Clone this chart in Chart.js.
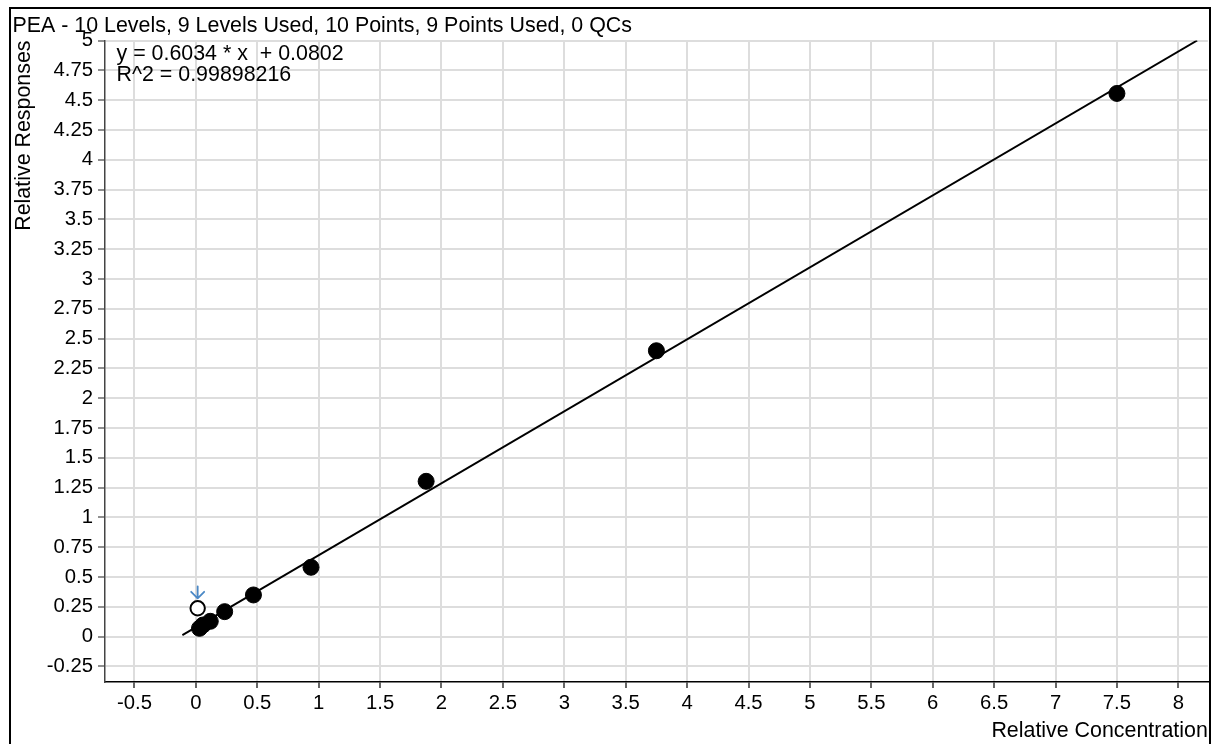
<!DOCTYPE html>
<html>
<head>
<meta charset="utf-8">
<script src="https://cdn.jsdelivr.net/npm/chart.js@4"></script>
<style>
  html, body { margin: 0; padding: 0; background: #fff; }
  #wrap { position: relative; width: 1217px; height: 744px; overflow: hidden; }
  #frame { position: absolute; left: 9px; top: 7px; width: 1202px; height: 800px;
           box-sizing: border-box; border: 2px solid #000; pointer-events: none; }
  canvas { position: absolute; left: 0; top: 0; }
</style>
</head>
<body>
<div id="wrap">
  <canvas id="cal" width="1217" height="744"></canvas>
  <div id="frame"></div>
</div>
<script>
// Calibration levels used in the fit
const concentrations = [0.0293, 0.0586, 0.1172, 0.2344, 0.4688, 0.9375, 1.875, 3.75, 7.5];
const responses      = [0.070, 0.098, 0.129, 0.210, 0.350, 0.582, 1.303, 2.398, 4.556];

// Level excluded from the fit
const excludedConcentrations = [0.0146];
const excludedResponses      = [0.238];

// Linear fit
const slope = 0.6034;
const intercept = 0.0802;
const rSquared = '0.99898216';
const fitStartX = -0.11;

const titleText = 'PEA - 10 Levels, 9 Levels Used, 10 Points, 9 Points Used, 0 QCs';
const xAxisTitle = 'Relative Concentration';
const yAxisTitle = 'Relative Responses';

const xTickValues = [-0.5, 0, 0.5, 1, 1.5, 2, 2.5, 3, 3.5, 4, 4.5, 5, 5.5, 6, 6.5, 7, 7.5, 8];
const yTickValues = [-0.25, 0, 0.25, 0.5, 0.75, 1, 1.25, 1.5, 1.75, 2, 2.25, 2.5, 2.75, 3,
                     3.25, 3.5, 3.75, 4, 4.25, 4.5, 4.75, 5];

const xMin = -0.74, xMax = 8.24;
const yMin = -0.38, yMax = 5;

const FONT = '"Liberation Sans", Arial, Helvetica, sans-serif';

const usedPoints = concentrations.map((c, i) => ({ x: c, y: responses[i] }));
const excludedPoints = excludedConcentrations.map((c, i) => ({ x: c, y: excludedResponses[i] }));
const fitEndX = (yMax - intercept) / slope;
const fitLine = [fitStartX, fitEndX].map(x => ({ x: x, y: slope * x + intercept }));

const fmt = v => String(Number(v.toFixed(4)));

// Header text and fit equation
const textPlugin = {
  id: 'calTexts',
  afterDraw(chart) {
    const ctx = chart.ctx;
    ctx.save();
    ctx.fillStyle = '#000';
    ctx.textAlign = 'left';
    ctx.textBaseline = 'alphabetic';
    ctx.font = '21.4px ' + FONT;
    ctx.fillText(titleText, 12.5, 31.5);
    ctx.fillText('y = ' + slope + ' * x  + ' + intercept.toFixed(4), 116.5, 59.5);
    ctx.fillText('R^2 = ' + rSquared, 116.5, 80.5);
    ctx.restore();
  }
};

// Blue marker above each excluded point
const excludedArrowPlugin = {
  id: 'excludedArrow',
  afterDatasetsDraw(chart) {
    const meta = chart.getDatasetMeta(1);
    const ctx = chart.ctx;
    ctx.save();
    ctx.strokeStyle = '#4a88c6';
    ctx.lineWidth = 1.8;
    ctx.lineCap = 'round';
    ctx.lineJoin = 'round';
    meta.data.forEach(pt => {
      const x = pt.x;
      const tip = pt.y - 10;
      ctx.beginPath();
      ctx.moveTo(x, tip - 12);
      ctx.lineTo(x, tip);
      ctx.moveTo(x - 6.5, tip - 6.5);
      ctx.lineTo(x, tip);
      ctx.lineTo(x + 6.5, tip - 6.5);
      ctx.stroke();
    });
    ctx.restore();
  }
};

new Chart(document.getElementById('cal'), {
  type: 'scatter',
  data: {
    datasets: [
      {
        label: 'Used',
        data: usedPoints,
        backgroundColor: '#000',
        borderColor: '#000',
        borderWidth: 1,
        pointRadius: 8,
        pointHoverRadius: 8
      },
      {
        label: 'Excluded',
        data: excludedPoints,
        backgroundColor: '#fff',
        borderColor: '#000',
        borderWidth: 2,
        pointRadius: 7.2,
        pointHoverRadius: 7.2
      },
      {
        type: 'line',
        label: 'Fit',
        data: fitLine,
        borderColor: '#000',
        borderWidth: 2,
        pointRadius: 0,
        fill: false,
        tension: 0
      }
    ]
  },
  options: {
    responsive: false,
    animation: false,
    devicePixelRatio: 1,
    events: [],
    layout: { padding: { top: 40.5, right: 9, left: 0, bottom: 0 } },
    plugins: {
      legend: { display: false },
      tooltip: { enabled: false },
      title: { display: false }
    },
    scales: {
      x: {
        type: 'linear',
        min: xMin,
        max: xMax,
        afterBuildTicks: s => { s.ticks = xTickValues.map(v => ({ value: v })); },
        afterFit: s => { s.height = 62; },
        grid: { color: '#dddddd', lineWidth: 2, tickLength: 6, tickColor: '#000', tickWidth: 1.2 },
        border: { color: '#000', width: 1.5 },
        ticks: {
          color: '#000',
          font: { family: FONT, size: 20.3 },
          padding: 3,
          maxRotation: 0,
          autoSkip: false,
          callback: v => fmt(v)
        },
        title: {
          display: true,
          text: xAxisTitle,
          align: 'end',
          color: '#000',
          font: { family: FONT, size: 21.4 },
          padding: { top: 0, bottom: 0 }
        }
      },
      y: {
        type: 'linear',
        min: yMin,
        max: yMax,
        afterBuildTicks: s => { s.ticks = yTickValues.map(v => ({ value: v })); },
        afterFit: s => { s.width = 105; },
        grid: { color: '#dddddd', lineWidth: 2, tickLength: 7, tickColor: '#444', tickWidth: 1.2 },
        border: { color: '#444', width: 1.5 },
        ticks: {
          color: '#000',
          font: { family: FONT, size: 20.3 },
          padding: 5,
          autoSkip: false,
          callback: v => fmt(v)
        },
        title: {
          display: true,
          text: yAxisTitle,
          align: 'end',
          color: '#000',
          font: { family: FONT, size: 21.4 },
          padding: { top: 11, bottom: 0 }
        }
      }
    }
  },
  plugins: [textPlugin, excludedArrowPlugin]
});
</script>
</body>
</html>
